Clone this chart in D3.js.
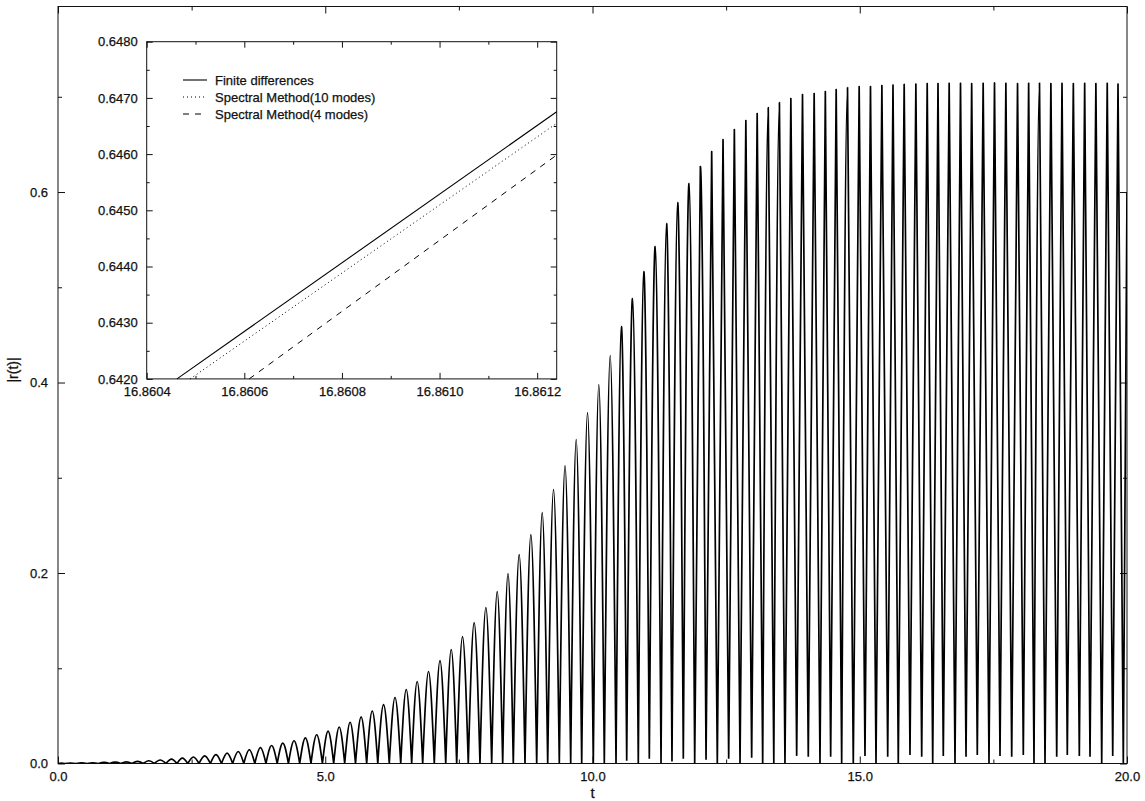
<!DOCTYPE html>
<html>
<head>
<meta charset="utf-8">
<script src="https://cdn.jsdelivr.net/npm/d3@7"></script>
<style>
  body { margin: 0; background: #fff; }
  text { font-family: "Liberation Sans", Arial, Helvetica, sans-serif; fill: #111; stroke: #111; stroke-width: 0.25px; }
</style>
</head>
<body>
<svg id="chart" width="1145" height="801"></svg>
<script>
// |r(t)| : oscillation troughs and crests
const troughT = [0.000, 0.127, 0.337, 0.546, 0.756, 0.965, 1.175, 1.384, 1.594, 1.804,
  2.019, 2.226, 2.428, 2.638, 2.851, 3.059, 3.268, 3.476, 3.682, 3.891,
  4.101, 4.311, 4.522, 4.733, 4.947, 5.158, 5.364, 5.566, 5.775, 5.983,
  6.198, 6.412, 6.617, 6.823, 7.040, 7.254, 7.459, 7.676, 7.895, 8.114,
  8.320, 8.518, 8.737, 8.956, 9.162, 9.379, 9.592, 9.798, 10.015, 10.221,
  10.440, 10.640, 10.857, 11.063, 11.282, 11.487, 11.699, 11.912, 12.124, 12.335,
  12.548, 12.760, 12.978, 13.184, 13.392, 13.601, 13.820, 14.037, 14.256, 14.456,
  14.662, 14.879, 15.098, 15.304, 15.523, 15.721, 15.940, 16.159, 16.365, 16.563,
  16.782, 16.988, 17.199, 17.418, 17.624, 17.843, 18.060, 18.260, 18.466, 18.685,
  18.883, 19.108, 19.308, 19.527, 19.733, 19.931];
const troughR = [0, 0, 0, 0, 0, 0, 0, 0, 0, 0,
  0, 0, 0, 0, 0, 0, 0, 0, 0, 0,
  0, 0, 0, 0, 0, 0, 0, 0, 0, 0,
  0, 0, 0, 0, 0, 0, 0, 0, 0, 0,
  0, 0, 0, 0, 0, 0, 0, 0, 0, 0,
  0, 0.003, 0, 0.005, 0, 0.002, 0.005, 0, 0.004, 0,
  0.005, 0, 0.006, 0, 0, 0, 0.008, 0.007, 0, 0.007,
  0, 0, 0.008, 0, 0.007, 0, 0.009, 0.007, 0, 0.008,
  0, 0.007, 0.009, 0, 0.008, 0.007, 0.009, 0, 0, 0.007,
  0.009, 0.008, 0.007, 0, 0.008, 0];
const peakT = [0.064, 0.232, 0.442, 0.651, 0.861, 1.070, 1.280, 1.489, 1.699, 1.912,
  2.123, 2.327, 2.533, 2.745, 2.955, 3.164, 3.372, 3.579, 3.787, 3.996,
  4.206, 4.417, 4.628, 4.840, 5.053, 5.261, 5.465, 5.671, 5.879, 6.091,
  6.305, 6.515, 6.720, 6.932, 7.147, 7.357, 7.568, 7.786, 8.005, 8.217,
  8.419, 8.628, 8.847, 9.059, 9.271, 9.486, 9.695, 9.907, 10.118, 10.331,
  10.540, 10.749, 10.960, 11.173, 11.385, 11.593, 11.806, 12.018, 12.230, 12.442,
  12.654, 12.869, 13.081, 13.288, 13.497, 13.711, 13.929, 14.147, 14.356, 14.559,
  14.771, 14.989, 15.201, 15.414, 15.622, 15.831, 16.050, 16.262, 16.464, 16.673,
  16.885, 17.094, 17.309, 17.521, 17.734, 17.952, 18.160, 18.363, 18.576, 18.784,
  18.996, 19.208, 19.418, 19.630, 19.832];
const peakR = [0.0003, 0.0004, 0.0006, 0.0008, 0.0011, 0.0014, 0.0018, 0.0023, 0.0029, 0.0037,
  0.0046, 0.0057, 0.0068, 0.0081, 0.0094, 0.0109, 0.0126, 0.0145, 0.0166, 0.0189,
  0.0213, 0.0239, 0.0269, 0.0302, 0.0339, 0.0383, 0.0433, 0.0489, 0.0551, 0.0619,
  0.0693, 0.0777, 0.0861, 0.0966, 0.1081, 0.1197, 0.1333, 0.1480, 0.1638, 0.1806,
  0.1995, 0.2194, 0.2404, 0.2635, 0.2877, 0.3129, 0.3402, 0.3685, 0.3979, 0.4283,
  0.4588, 0.4882, 0.5165, 0.5428, 0.5669, 0.5890, 0.6089, 0.6268, 0.6425, 0.6551,
  0.6656, 0.6751, 0.6824, 0.6887, 0.6940, 0.6982, 0.7024, 0.7034, 0.7055, 0.7076,
  0.7097, 0.7108, 0.7108, 0.7118, 0.7123, 0.7129, 0.7134, 0.7139, 0.7139, 0.7142,
  0.7142, 0.7139, 0.7142, 0.7145, 0.7142, 0.7139, 0.7142, 0.7145, 0.7139, 0.7142,
  0.7139, 0.7142, 0.7139, 0.7142, 0.7134];
// last rising flank, cut by the right edge
const tailT = [19.931, 20.0];
const tailR = [0, 0.60];

const xMajor = [0, 5, 10, 15, 20];
const xMinor = [2.5, 7.5, 12.5, 17.5];
const yMajor = [0, 0.2, 0.4, 0.6];
const yMinor = [0.1, 0.3, 0.5, 0.7];

// zoomed detail near t = 16.861
const fdT = [16.860462, 16.86124];
const fdR = [0.6420, 0.646754];
const sm10T = [16.860489, 16.86124];
const sm10R = [0.6420, 0.646548];
const sm4T = [16.860610, 16.86124];
const sm4R = [0.6420, 0.645984];
const inXMajor = [16.8604, 16.8606, 16.8608, 16.8610, 16.8612];
const inXMinor = [16.8605, 16.8607, 16.8609, 16.8611];
const inYMajor = [0.6420, 0.6430, 0.6440, 0.6450, 0.6460, 0.6470, 0.6480];
const inYMinor = [0.6425, 0.6435, 0.6445, 0.6455, 0.6465, 0.6475];
const legendLabels = ["Finite differences", "Spectral Method(10 modes)", "Spectral Method(4 modes)"];

const svg = d3.select("#chart");

// ---------- main panel ----------
const M = { left: 58, right: 1127, top: 6.5, bottom: 763.5 };
const x = d3.scaleLinear().domain([0, 20]).range([M.left, M.right]);
const y = d3.scaleLinear().domain([0, 0.7948]).range([M.bottom, M.top]);

svg.append("defs").append("clipPath").attr("id", "plotClip")
  .append("rect").attr("x", M.left).attr("y", M.top)
  .attr("width", M.right - M.left).attr("height", M.bottom - M.top);

function styleAxis(g) {
  g.select(".domain").remove();
  g.selectAll("line").attr("stroke", "#111").attr("stroke-width", 1);
  g.selectAll("text").attr("font-size", 13).attr("fill", "#111");
}

svg.append("g").attr("transform", `translate(0,${M.bottom})`)
  .call(d3.axisBottom(x).tickValues(xMajor).tickFormat(d3.format(".1f")).tickSize(-7).tickPadding(8))
  .call(styleAxis);
svg.append("g").attr("transform", `translate(0,${M.bottom})`)
  .call(d3.axisBottom(x).tickValues(xMinor).tickFormat("").tickSize(-4))
  .call(styleAxis);
svg.append("g").attr("transform", `translate(0,${M.top})`)
  .call(d3.axisTop(x).tickValues(xMajor).tickFormat("").tickSize(-7))
  .call(styleAxis);
svg.append("g").attr("transform", `translate(0,${M.top})`)
  .call(d3.axisTop(x).tickValues(xMinor).tickFormat("").tickSize(-4))
  .call(styleAxis);
svg.append("g").attr("transform", `translate(${M.left},0)`)
  .call(d3.axisLeft(y).tickValues(yMajor).tickFormat(d3.format(".1f")).tickSize(-7).tickPadding(10))
  .call(styleAxis);
svg.append("g").attr("transform", `translate(${M.left},0)`)
  .call(d3.axisLeft(y).tickValues(yMinor).tickFormat("").tickSize(-4))
  .call(styleAxis);
svg.append("g").attr("transform", `translate(${M.right},0)`)
  .call(d3.axisRight(y).tickValues(yMajor).tickFormat("").tickSize(-7))
  .call(styleAxis);
svg.append("g").attr("transform", `translate(${M.right},0)`)
  .call(d3.axisRight(y).tickValues(yMinor).tickFormat("").tickSize(-4))
  .call(styleAxis);

svg.append("rect").attr("x", M.left).attr("y", M.top)
  .attr("width", M.right - M.left).attr("height", M.bottom - M.top)
  .attr("fill", "none").attr("stroke", "#111").attr("stroke-width", 1);

// each crest is a smooth arch between two troughs
const arch = d3.line().x(d => x(d[0])).y(d => y(d[1])).curve(d3.curveNatural);
let dPath = "";
for (let i = 0; i < peakT.length; i++) {
  dPath += arch([[troughT[i], troughR[i]], [peakT[i], peakR[i]], [troughT[i + 1], troughR[i + 1]]]);
}
dPath += d3.line().x(d => x(d[0])).y(d => y(d[1]))(tailT.map((t, i) => [t, tailR[i]]));
svg.append("path").attr("d", dPath).attr("clip-path", "url(#plotClip)")
  .attr("fill", "none").attr("stroke", "#000").attr("stroke-width", 1.7)
  .attr("stroke-linejoin", "round");

svg.append("text").attr("x", x(10)).attr("y", 798).attr("text-anchor", "middle")
  .attr("font-size", 15).text("t");
svg.append("text").attr("transform", `translate(18,${370}) rotate(-90)`)
  .attr("text-anchor", "middle").attr("font-size", 14).text("|r(t)|");

// ---------- inset ----------
const I = { left: 146.7, right: 556.7, top: 41.7, bottom: 378.9 };
const ix = d3.scaleLinear().domain([16.8604, 16.86124]).range([I.left, I.right]);
const iy = d3.scaleLinear().domain([0.6420, 0.6480]).range([I.bottom, I.top]);

svg.append("rect").attr("x", I.left).attr("y", I.top)
  .attr("width", I.right - I.left).attr("height", I.bottom - I.top).attr("fill", "#fff");

svg.append("g").attr("transform", `translate(0,${I.bottom})`)
  .call(d3.axisBottom(ix).tickValues(inXMajor).tickFormat(d3.format(".4f")).tickSize(-6).tickPadding(8))
  .call(styleAxis);
svg.append("g").attr("transform", `translate(0,${I.bottom})`)
  .call(d3.axisBottom(ix).tickValues(inXMinor).tickFormat("").tickSize(-3))
  .call(styleAxis);
svg.append("g").attr("transform", `translate(0,${I.top})`)
  .call(d3.axisTop(ix).tickValues(inXMajor).tickFormat("").tickSize(-6))
  .call(styleAxis);
svg.append("g").attr("transform", `translate(0,${I.top})`)
  .call(d3.axisTop(ix).tickValues(inXMinor).tickFormat("").tickSize(-3))
  .call(styleAxis);
svg.append("g").attr("transform", `translate(${I.left},0)`)
  .call(d3.axisLeft(iy).tickValues(inYMajor).tickFormat(d3.format(".4f")).tickSize(-6).tickPadding(9))
  .call(styleAxis);
svg.append("g").attr("transform", `translate(${I.left},0)`)
  .call(d3.axisLeft(iy).tickValues(inYMinor).tickFormat("").tickSize(-3))
  .call(styleAxis);
svg.append("g").attr("transform", `translate(${I.right},0)`)
  .call(d3.axisRight(iy).tickValues(inYMajor).tickFormat("").tickSize(-6))
  .call(styleAxis);
svg.append("g").attr("transform", `translate(${I.right},0)`)
  .call(d3.axisRight(iy).tickValues(inYMinor).tickFormat("").tickSize(-3))
  .call(styleAxis);

svg.append("rect").attr("x", I.left).attr("y", I.top)
  .attr("width", I.right - I.left).attr("height", I.bottom - I.top)
  .attr("fill", "none").attr("stroke", "#111").attr("stroke-width", 1);

const series = [
  { T: fdT, R: fdR, dash: null, w: 1.1 },
  { T: sm10T, R: sm10R, dash: "1,3", w: 1.0 },
  { T: sm4T, R: sm4R, dash: "6,6", w: 1.0 }
];
const iline = d3.line().x(d => ix(d[0])).y(d => iy(d[1]));
series.forEach(s => {
  svg.append("path").attr("d", iline(s.T.map((t, i) => [t, s.R[i]])))
    .attr("fill", "none").attr("stroke", "#000").attr("stroke-width", s.w)
    .attr("stroke-dasharray", s.dash);
});

// legend
legendLabels.forEach((lab, i) => {
  const ly = 80 + i * 17;
  svg.append("line").attr("x1", 183).attr("x2", 207).attr("y1", ly).attr("y2", ly)
    .attr("stroke", "#000").attr("stroke-width", series[i].w)
    .attr("stroke-dasharray", series[i].dash);
  svg.append("text").attr("x", 215).attr("y", ly + 4.5).attr("font-size", 13).text(lab);
});
</script>
</body>
</html>
